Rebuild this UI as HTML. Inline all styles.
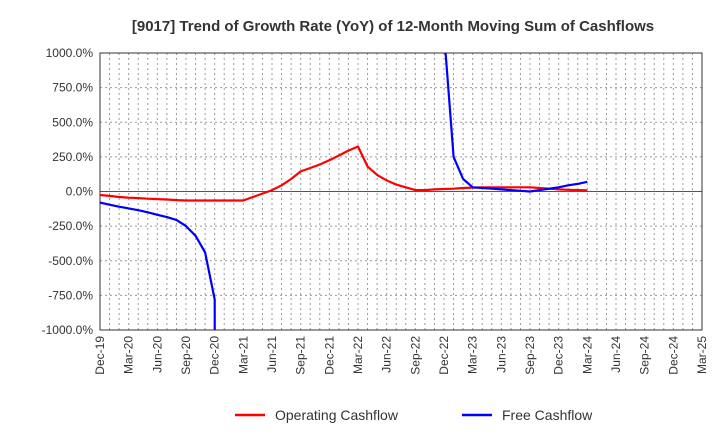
<!DOCTYPE html>
<html><head><meta charset="utf-8"><style>
html,body{margin:0;padding:0;background:#fff;font-family:"Liberation Sans",sans-serif;width:720px;height:440px;overflow:hidden}
svg{display:block}
</style></head><body>
<svg id="chart" width="720" height="440" xmlns="http://www.w3.org/2000/svg" font-family="Liberation Sans, sans-serif">
<text x="393" y="31" text-anchor="middle" font-size="15" font-weight="bold" fill="#333">[9017]  Trend of Growth Rate (YoY) of 12-Month Moving Sum of Cashflows</text>
<defs><clipPath id="clip"><rect x="100" y="53" width="602" height="277"/></clipPath></defs>
<g id="grid"></g>
<g id="axes"></g>
<g id="series" clip-path="url(#clip)"></g>
<g>
<line x1="235" y1="415" x2="265" y2="415" stroke="#f00" stroke-width="2.5"/>
<text x="275" y="420" font-size="14" fill="#333">Operating Cashflow</text>
<line x1="462" y1="415" x2="492" y2="415" stroke="#00f" stroke-width="2.5"/>
<text x="502" y="420" font-size="14" fill="#333">Free Cashflow</text>
</g>
</svg>
<script>
const xLabels=["Dec-19","Mar-20","Jun-20","Sep-20","Dec-20","Mar-21","Jun-21","Sep-21","Dec-21","Mar-22","Jun-22","Sep-22","Dec-22","Mar-23","Jun-23","Sep-23","Dec-23","Mar-24","Jun-24","Sep-24","Dec-24","Mar-25"];
const yTicks=[1000,750,500,250,0,-250,-500,-750,-1000];
const yTickLabels=["1000.0%","750.0%","500.0%","250.0%","0.0%","-250.0%","-500.0%","-750.0%","-1000.0%"];
const operatingCF=[-25,-32,-40,-45,-48,-52,-55,-58,-62,-65,-65,-65,-65,-65,-65,-65,-40,-15,10,45,90,145,170,195,225,260,295,325,180,120,80,50,30,10,10,15,18,20,25,28,30,30,30,30,30,30,25,20,15,12,10,8];
const freeCF=[-80,-95,-110,-122,-135,-150,-168,-185,-205,-250,-320,-440,-780,-60000,null,null,null,null,null,null,null,null,null,null,null,null,null,null,null,null,null,null,null,null,null,null,1150,250,90,30,25,20,15,10,5,0,10,20,30,45,55,70];
const NS="http://www.w3.org/2000/svg";
const X0=100,X1=702,Y0=53,Y1=330;
const xm=i=>X0+(X1-X0)*i/63;
const y=v=>Y1-(v+1000)/2000*(Y1-Y0);
function mk(tag,attrs,parent){const e=document.createElementNS(NS,tag);for(const k in attrs)e.setAttribute(k,attrs[k]);parent.appendChild(e);return e;}
const grid=document.getElementById('grid'),axes=document.getElementById('axes'),ser=document.getElementById('series');
for(let m=1;m<63;m++){const l=mk('line',{x1:xm(m),x2:xm(m),y1:Y0,y2:Y1,stroke:'#999','stroke-dasharray':'2,3','stroke-width':1},grid);

}
yTicks.forEach((v,i)=>{const l=mk('line',{x1:X0,x2:X1,y1:y(v),y2:y(v),stroke:v===0?'#555':'#999','stroke-dasharray':v===0?'':'2,3','stroke-width':1},grid);


const t=mk('text',{x:93,y:y(v)+4,'text-anchor':'end','font-size':12,fill:'#333'},axes);t.textContent=yTickLabels[i];

});
xLabels.forEach((s,i)=>{const xx=xm(i*3);const t=mk('text',{x:0,y:0,transform:`translate(${xx+4},336) rotate(-90)`,'text-anchor':'end','font-size':12,fill:'#333'},axes);t.textContent=s;

});
const fr=mk('rect',{x:X0,y:Y0,width:X1-X0,height:Y1-Y0,fill:'none',stroke:'#333','stroke-width':1},axes);


function path(data,color,name){let d='',pen=false;data.forEach((v,i)=>{if(v===null){pen=false;return;}d+=(pen?'L':'M')+xm(i).toFixed(1)+','+y(v).toFixed(1);pen=true;});
const p=mk('path',{d:d,fill:'none',stroke:color,'stroke-width':2.2,'stroke-linejoin':'round'},ser);

}
path(operatingCF,'#f00','operating-cashflow-line');
path(freeCF,'#00f','free-cashflow-line');
</script>
</body></html>
